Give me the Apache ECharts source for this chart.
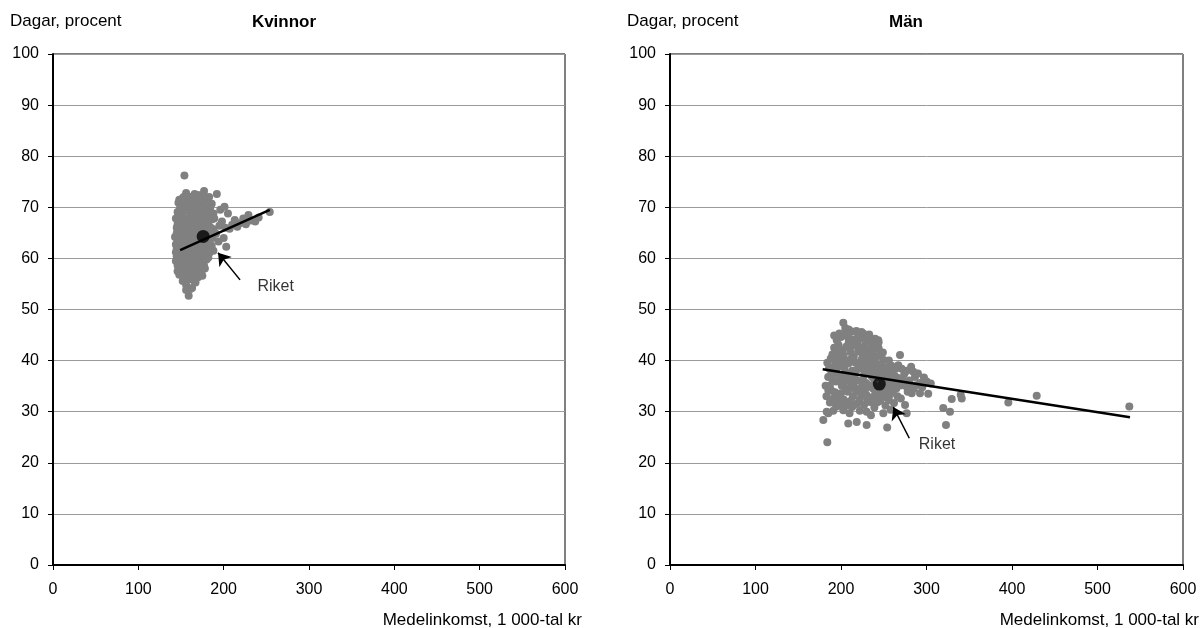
<!DOCTYPE html>
<html>
<head>
<meta charset="utf-8">
<script src="https://cdn.jsdelivr.net/npm/echarts@6/dist/echarts.min.js"></script>
<style>
html,body{margin:0;padding:0;background:#fff;}
#c{width:1201px;height:628px;}
</style>
</head>
<body>
<div id="c"></div>
<script>
const xTicks = [0, 100, 200, 300, 400, 500, 600];
const yTicks = [0, 10, 20, 30, 40, 50, 60, 70, 80, 90, 100];
const panelTitles = ['Kvinnor', 'Män'];
const yAxisTitle = 'Dagar, procent';
const xAxisTitle = 'Medelinkomst, 1 000-tal kr';
const annotationText = 'Riket';

// Kvinnor: municipalities [medelinkomst, dagar %]
const kvinnorPoints = [
[159,52.7],[163,54.2],[156,54.8],[166,55.4],[152,55.6],[160,55.9],[170,56.3],[148,56.8],[155,57.0],[163,57.2],
[174,57.5],[151,57.9],[158,58.1],[167,58.3],[146,58.6],[177,58.6],[154,58.9],[162,59.2],[171,59.4],[149,59.7],
[180,59.8],[157,60.0],[166,60.1],[145,60.4],[152,60.6],[175,60.6],[161,60.9],[169,61.1],[183,61.0],[147,61.4],
[156,61.5],[178,61.7],[164,61.8],[150,62.2],[172,62.2],[159,62.4],[144,62.7],[186,62.5],[167,62.8],[153,63.0],
[180,63.1],[161,63.3],[147,63.6],[175,63.6],[157,63.9],[169,64.0],[150,64.3],[164,64.5],[184,64.4],[145,64.9],
[172,64.9],[155,65.1],[160,65.4],[178,65.3],[149,65.8],[166,65.9],[188,65.7],[153,66.2],[171,66.3],[146,66.7],
[159,66.8],[182,66.6],[164,67.1],[150,67.3],[175,67.4],[155,67.8],[168,67.9],[147,68.3],[161,68.4],[179,68.2],
[152,68.9],[172,69.0],[157,69.4],[165,69.6],[149,69.9],[184,69.8],[160,70.3],[154,70.8],[170,70.6],[186,70.7],
[163,71.3],[151,71.6],[176,71.5],[158,72.1],[156,72.8],[166,72.6],[177,73.2],[192,72.6],[154,76.2],
[191,64.8],[195,66.4],[198,67.2],[201,70.1],[203,62.3],[205,68.8],[207,65.8],[210,66.6],[213,67.5],[216,66.2],
[219,66.9],[223,67.8],[226,66.7],[229,68.5],[232,67.4],[237,67.2],[241,68.0],[254,69.1],[200,64.0],[194,63.3],
[189,67.8],[196,69.5],[202,66.0],[188,61.5],
[146,57.5],[150,58.5],[153,59.4],[158,59.0],[161,58.2],[165,59.5],[168,60.5],[173,60.0],[176,62.4],[179,62.6],
[182,63.8],[185,66.0],[181,64.9],[177,64.3],[174,65.8],[170,65.2],[167,64.2],[163,63.0],[158,64.8],[154,64.3],
[151,63.9],[148,62.5],[145,61.9],[152,61.2],[155,62.6],[162,61.9],[166,61.2],[171,61.6],[174,62.9],[169,63.1],
[160,66.2],[157,67.0],[153,67.9],[148,67.0],[145,66.0],[163,66.0],[168,66.8],[172,67.8],[176,68.6],[181,68.4],
[178,70.0],[174,70.2],[168,69.2],[162,68.9],[158,70.6],[150,70.3],[146,69.1],[155,71.6],[161,72.0],[170,72.4],
[165,71.1],[180,71.4],[183,72.0],[188,68.8],[186,67.6],[148,64.6],[156,61.1],[164,58.8],[159,57.8],[153,58.2],
[157,56.3],[162,56.0],[168,57.6],[171,58.5],[149,60.8],[146,63.3],[143,64.2],[144,67.8],[147,70.9],
[144,59.5],[147,60.0],[150,61.0],[153,62.0],[156,63.0],[159,61.3],[162,64.0],[165,62.5],[168,63.8],[171,63.3],
[174,61.4],[177,60.0],[172,59.0],[169,58.4],[165,57.0],[160,57.4],[156,58.0],[151,59.2],[148,63.0],[152,65.0],
[155,66.5],[158,65.8],[161,67.4],[164,68.3],[167,69.9],[170,68.4],[173,66.7],[176,67.0],[179,66.0],[183,67.8],
[180,69.6],[177,72.2],[172,71.2],[168,71.8],[163,70.2],[159,71.3],[155,69.8],[151,68.7],[148,71.5],[153,72.0],
[146,65.2],[144,61.2],[184,62.0],[187,64.0],[182,60.2],[178,58.0],[175,56.6],[167,55.3],[161,54.0],[156,53.8]
];
const kvinnorRiket = [176, 64.3];
const kvinnorTrendX = [149, 254];
const kvinnorTrendY = [61.6, 69.5];

// Män
const manPoints = [
[184,24.0],[179.3,28.4],[183.3,30.0],[193,31.6],[202.7,30.3],[208.5,27.7],[218.4,28.0],[230,27.4],[249.5,29.7],[254,26.9],
[274.9,31.3],[276.8,29.7],[269,41.1],[267,39.1],[284.6,37.8],[286.5,36.8],[292.4,35.6],[300.2,35.9],[292.4,33.6],[302,33.5],
[282.7,33.6],[329.5,32.5],[341.2,32.6],[340,33.3],[319.6,30.7],[327.5,30.0],[322.8,27.4],[395.7,31.8],[428.9,33.1],[537.2,31.0],
[202.7,47.4],[195,44.0],[212.5,45.7],[226,45.3],[236,44.0],[243.6,44.0],[243.6,32.0],[257,33.3],[265,34.6],[276.8,34.9],
[185.2,34.2],[191,32.6],[195,31.0],[185.2,29.7],
[186,38.5],[190,36.2],[193,39.8],[196,37.4],[199,41.2],[201,35.1],[204,38.6],[206,42.7],[208,33.9],[210,36.8],
[212,40.3],[214,44.1],[216,34.7],[218,38.1],[220,41.8],[222,36.0],[224,33.2],[226,39.4],[228,43.0],[230,35.5],
[232,37.9],[234,41.0],[236,32.8],[238,36.6],[240,39.5],[242,34.3],[244,42.4],[246,37.2],[248,33.5],[250,40.1],
[252,36.1],[254,38.7],[257,34.9],[260,37.5],[262,35.8],[189,34.1],[192,42.5],[197,33.2],[200,44.6],[203,32.4],
[205,40.1],[207,36.2],[209,43.6],[211,32.1],[213,38.0],[215,35.8],[217,42.9],[219,31.6],[221,39.0],[223,44.3],
[225,35.0],[227,37.3],[229,40.7],[231,32.4],[233,45.1],[235,38.4],[237,34.6],[239,42.2],[241,36.8],[243,31.9],
[245,39.2],[247,35.2],[249,41.6],[251,32.9],[253,37.0],[256,40.0],[258,36.3],[261,33.9],[264,38.4],[267,36.6],
[271,35.2],[274,37.4],[278,33.9],[280,36.1],[183,33.0],[187,31.8],[194,35.9],[198,38.9],[202,37.1],[206,34.5],
[211,41.7],[215,37.3],[219,43.4],[223,38.5],[228,34.2],[232,40.3],[236,36.9],[240,33.5],[244,37.6],[248,38.9],
[252,34.5],[256,32.3],[259,39.0],[197,43.1],[204,45.3],[209,46.1],[218,45.8],[221,34.4],[227,31.3],[234,31.9],
[239,30.8],[246,32.2],[213,30.9],[207,31.2],[199,31.9],[191,30.2],[225,41.4],[230,38.6],[212,35.2],[205,39.3],
[202,42.0],[195,40.9],[188,40.4],[185,36.8],[182,35.1],[217,39.6],[242,40.8],[237,43.2],[231,44.0],[226,42.1],
[262,31.7],[258,30.4],[252,31.2],[266,33.0],[270,32.6],[273,36.1],[277,38.0],[288,35.2],[295,34.8],[297,36.7],
[290,37.5],[285,34.5],[305,35.5],
[188,37.2],[191,38.7],[194,37.9],[197,36.0],[200,39.8],[203,41.0],[206,37.6],[209,39.5],[212,42.9],[215,40.8],
[218,36.2],[221,42.6],[224,40.2],[227,35.9],[230,41.7],[233,39.1],[236,40.2],[239,37.9],[242,38.4],[245,41.0],
[248,36.4],[251,38.2],[254,35.4],[257,37.9],[260,35.1],[263,37.0],[266,35.3],[200,33.6],[204,35.8],[210,34.5],
[214,33.0],[218,33.9],[222,32.4],[226,33.6],[230,33.2],[234,35.0],[238,35.3],[242,33.1],[246,34.0],[250,34.9],
[254,33.0],[208,44.6],[212,44.2],[216,43.5],[220,44.9],[224,45.6],[228,44.8],[232,42.3],[236,41.8],[240,44.3],
[244,43.6],[205,46.4],[198,45.3],[192,44.9],[200,36.4],[193,33.8],[196,32.2],[203,30.9],[210,29.7],[216,31.4],
[222,30.2],[230,30.0],[235,29.3],[240,31.6],[187,35.1],[184,39.6],[190,41.2],[196,42.1],[282,38.8],[279,35.3],
[271,38.4]
];
const manRiket = [244.8, 35.4];
const manTrendX = [178.6, 538];
const manTrendY = [38.3, 28.9];

const FONT = 'Liberation Sans, Arial, Helvetica, sans-serif';
const chart = echarts.init(document.getElementById('c'), null, {renderer: 'canvas'});

function xAxisFor(i) {
  return {
    gridIndex: i, type: 'value', min: xTicks[0], max: xTicks[xTicks.length - 1], interval: 100,
    axisLine: {show: true, onZero: false, lineStyle: {color: '#000', width: 2}},
    axisTick: {show: true, inside: false, length: 5, lineStyle: {color: '#000', width: 1}},
    axisLabel: {color: '#000', fontSize: 16, fontFamily: FONT, margin: 17},
    splitLine: {show: false}
  };
}
function yAxisFor(i) {
  return {
    gridIndex: i, type: 'value', min: yTicks[0], max: yTicks[yTicks.length - 1], interval: 10,
    axisLine: {show: true, lineStyle: {color: '#000', width: 2}},
    axisTick: {show: true, inside: false, length: 5, lineStyle: {color: '#000', width: 1}},
    axisLabel: {color: '#000', fontSize: 16, fontFamily: FONT, margin: 14},
    splitLine: {show: true, lineStyle: {color: '#9a9a9a', width: 1}}
  };
}
function pairs(xs, ys) { return xs.map((x, i) => [x, ys[i]]); }

function panelSeries(i, pts, trendX, trendY, riket, arrowFrom, arrowTo, textPos) {
  return [
    {type: 'scatter', xAxisIndex: i, yAxisIndex: i, data: pts, symbol: 'circle', symbolSize: 8,
     itemStyle: {color: '#808080', opacity: 1}, silent: true, z: 2},
    {type: 'line', xAxisIndex: i, yAxisIndex: i, data: pairs(trendX, trendY), symbol: 'none',
     lineStyle: {color: '#000', width: 2.5}, silent: true, z: 3},
    {type: 'scatter', xAxisIndex: i, yAxisIndex: i, data: [riket], symbol: 'circle', symbolSize: 13,
     itemStyle: {color: '#000'}, silent: true, z: 4},
    {type: 'lines', coordinateSystem: 'cartesian2d', xAxisIndex: i, yAxisIndex: i,
     symbol: ['none', 'arrow'], symbolSize: [0, 12],
     lineStyle: {color: '#000', width: 1.5, opacity: 1},
     data: [{coords: [arrowFrom, arrowTo]}], silent: true, z: 5},
    {type: 'scatter', xAxisIndex: i, yAxisIndex: i, data: [textPos], symbolSize: 1,
     itemStyle: {color: 'rgba(0,0,0,0)'}, silent: true, z: 6,
     label: {show: true, position: 'right', distance: 0, formatter: annotationText,
             color: '#000', fontSize: 16, fontFamily: FONT}}
  ];
}

const option = {
  animation: false,
  backgroundColor: '#fff',
  grid: [
    {left: 53, top: 54, width: 512, height: 511, show: true, borderColor: '#000', borderWidth: 1, backgroundColor: 'transparent'},
    {left: 670, top: 54, width: 513, height: 511, show: true, borderColor: '#000', borderWidth: 1, backgroundColor: 'transparent'}
  ],
  xAxis: [xAxisFor(0), xAxisFor(1)],
  yAxis: [yAxisFor(0), yAxisFor(1)],
  graphic: [
    {type: 'text', left: 10, top: 13, style: {text: yAxisTitle, font: '17px ' + FONT, fill: '#000'}},
    {type: 'text', left: 627, top: 13, style: {text: yAxisTitle, font: '17px ' + FONT, fill: '#000'}},
    {type: 'text', x: 284, y: 22, style: {text: panelTitles[0], font: 'bold 17px ' + FONT, fill: '#000', textAlign: 'center', textVerticalAlign: 'middle'}},
    {type: 'text', x: 906, y: 22, style: {text: panelTitles[1], font: 'bold 17px ' + FONT, fill: '#000', textAlign: 'center', textVerticalAlign: 'middle'}},
    {type: 'text', x: 582, y: 620, style: {text: xAxisTitle, font: '17px ' + FONT, fill: '#000', textAlign: 'right', textVerticalAlign: 'middle'}},
    {type: 'text', x: 1199, y: 620, style: {text: xAxisTitle, font: '17px ' + FONT, fill: '#000', textAlign: 'right', textVerticalAlign: 'middle'}}
  ],
  series: [
    ...panelSeries(0, kvinnorPoints, kvinnorTrendX, kvinnorTrendY, kvinnorRiket, [219.2, 55.8], [193.4, 61.1], [239, 54.4]),
    ...panelSeries(1, manPoints, manTrendX, manTrendY, manRiket, [279.9, 24.8], [261.2, 30.9], [290.4, 23.5])
  ]
};
chart.setOption(option);
</script>
</body>
</html>
